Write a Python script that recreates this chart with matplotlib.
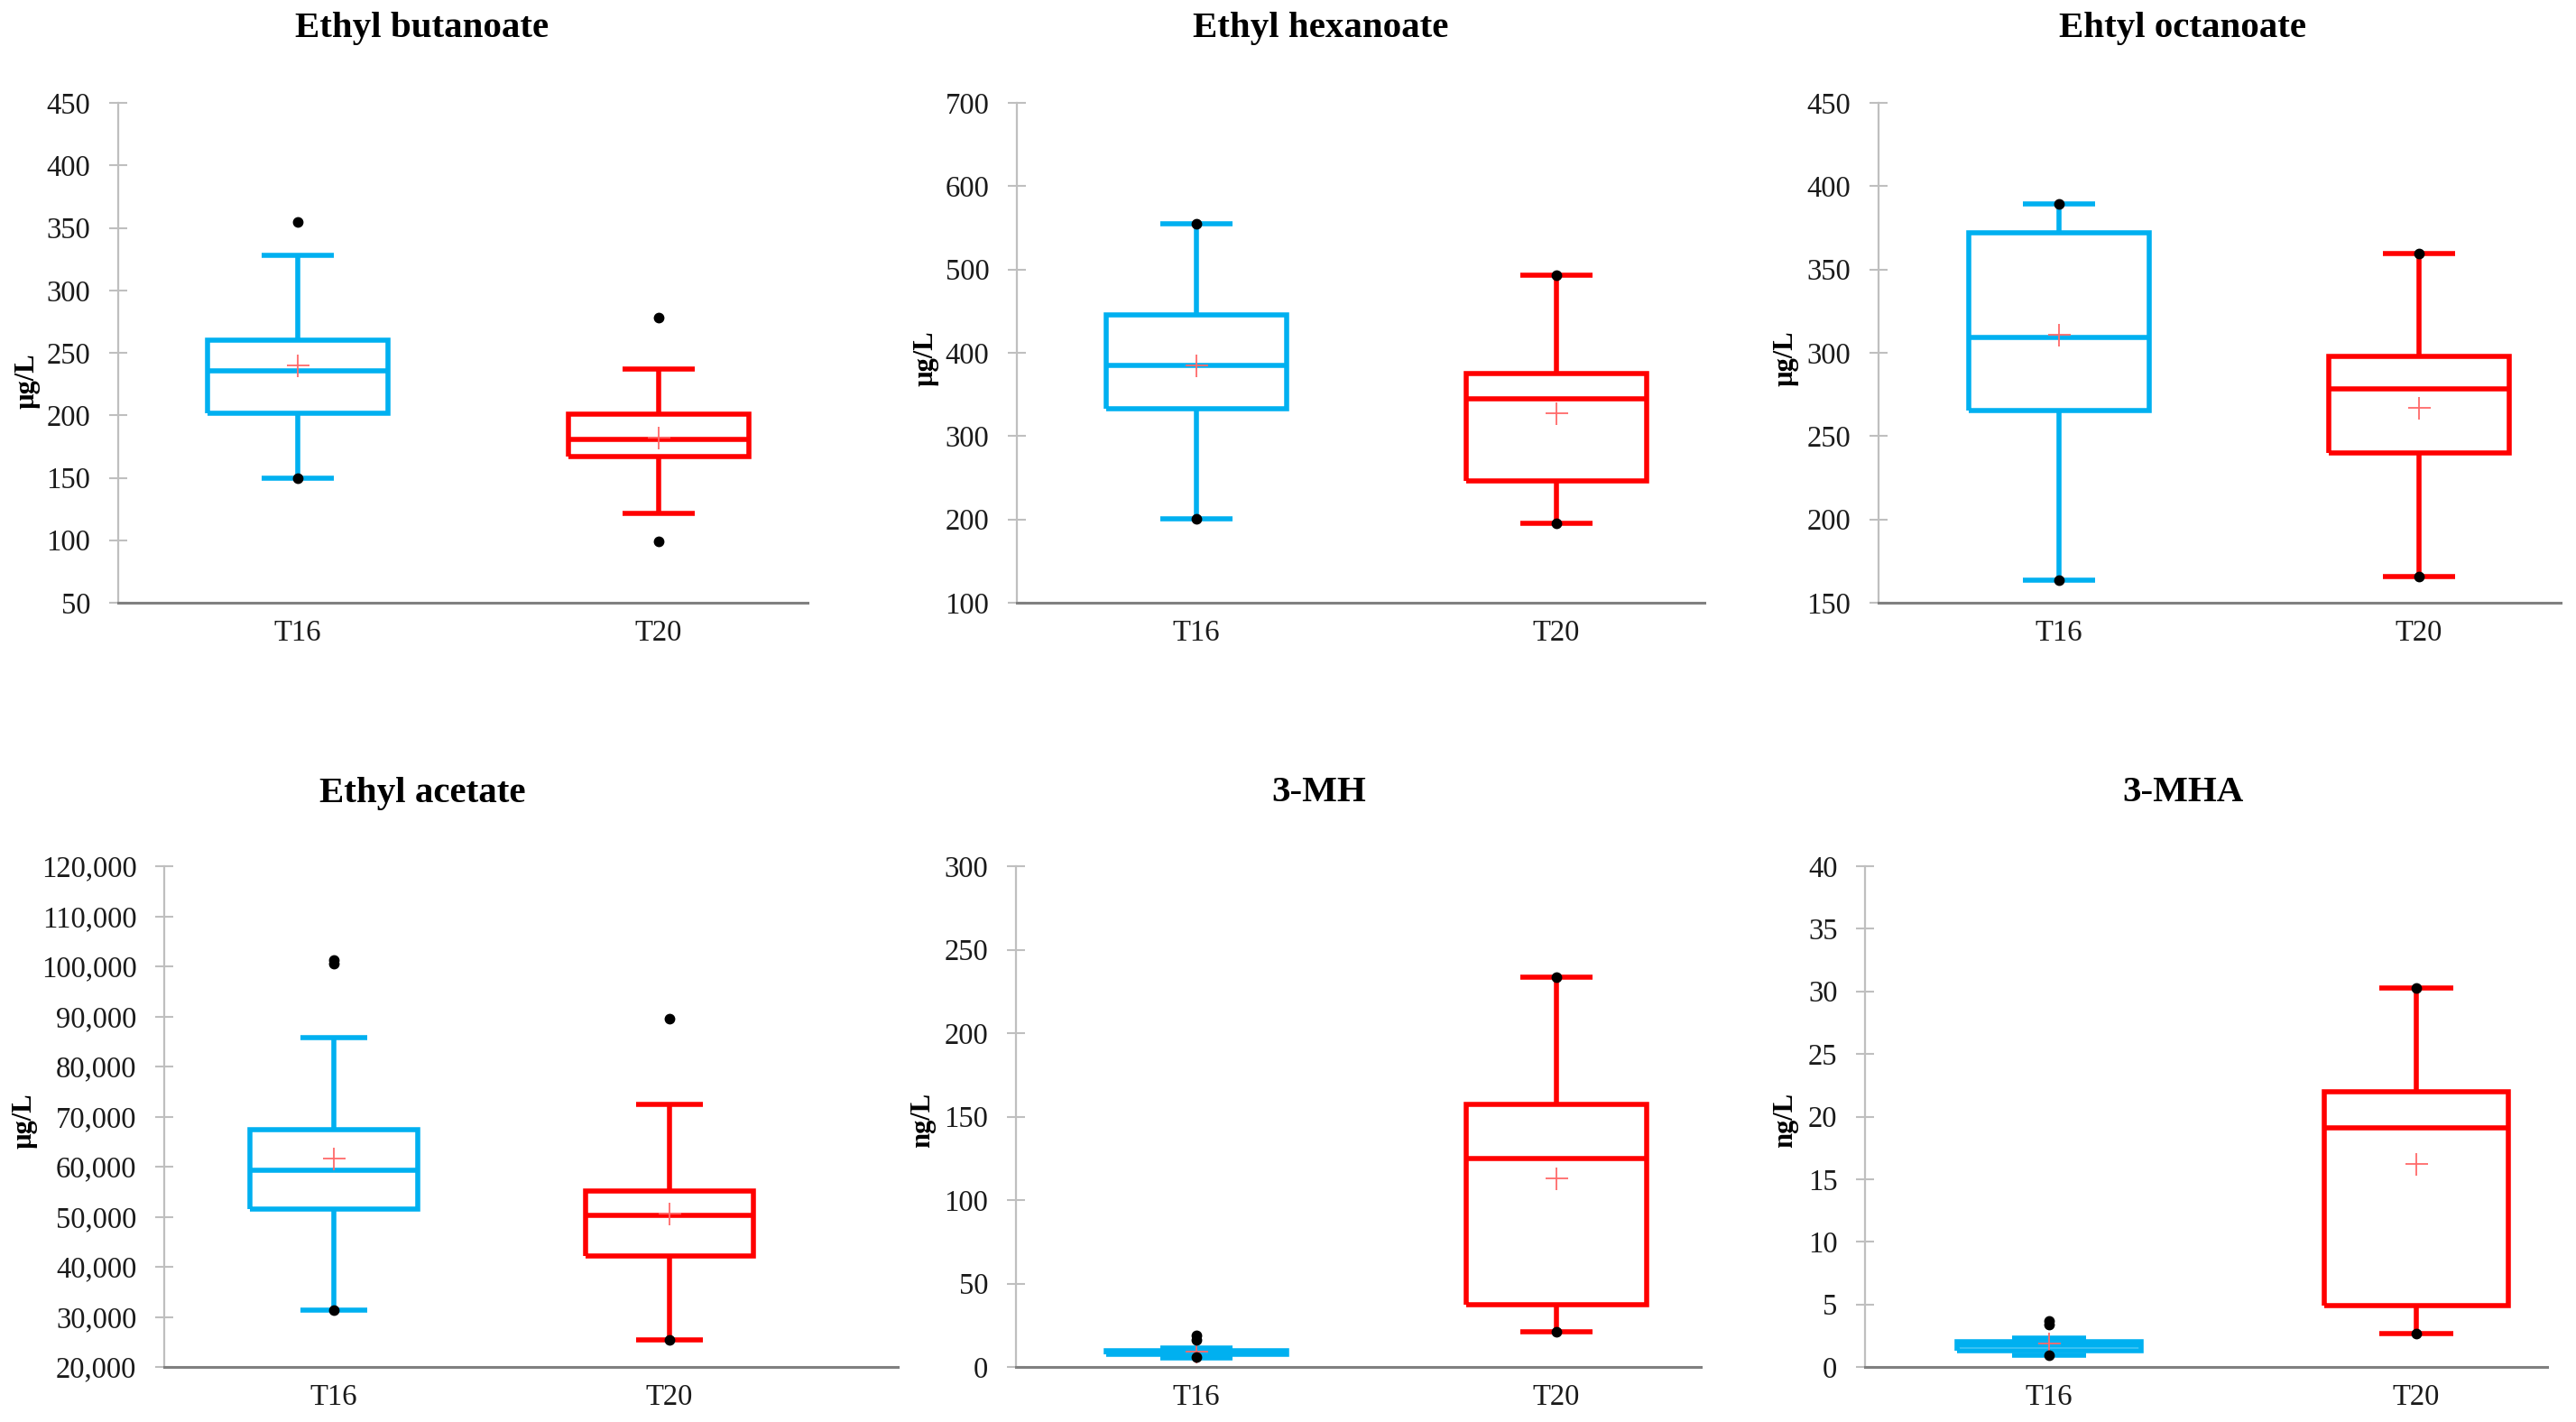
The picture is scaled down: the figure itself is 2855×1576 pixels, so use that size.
import matplotlib
matplotlib.use("Agg")
import matplotlib.pyplot as plt
from matplotlib.ticker import FuncFormatter

plt.rcParams['font.family'] = ['Liberation Serif', 'DejaVu Serif']

# ---------------- data ----------------
groups = ["T16", "T20"]
titles = ["Ethyl butanoate", "Ethyl hexanoate", "Ehtyl octanoate",
          "Ethyl acetate", "3-MH", "3-MHA"]
units = ["µg/L", "µg/L", "µg/L", "µg/L", "ng/L", "ng/L"]

# Ethyl butanoate
butanoate_whislo = [150, 121.5]
butanoate_q1 = [201.5, 167]
butanoate_med = [235.5, 181]
butanoate_q3 = [260, 201]
butanoate_whishi = [328, 237]
butanoate_mean = [240, 182]
butanoate_points = [[150, 355], [99, 278]]

# Ethyl hexanoate
hexanoate_whislo = [200.5, 195]
hexanoate_q1 = [333, 246.5]
hexanoate_med = [385, 345]
hexanoate_q3 = [445, 375]
hexanoate_whishi = [555, 493]
hexanoate_mean = [385, 327]
hexanoate_points = [[200.5, 555], [195, 493]]

# Ethyl octanoate
octanoate_whislo = [163.5, 165.5]
octanoate_q1 = [265.5, 240]
octanoate_med = [309, 278.5]
octanoate_q3 = [372, 298]
octanoate_whishi = [389.5, 359.5]
octanoate_mean = [311, 267]
octanoate_points = [[163.5, 389.5], [165.5, 359.5]]

# Ethyl acetate
acetate_whislo = [31300, 25400]
acetate_q1 = [51500, 42100]
acetate_med = [59200, 50200]
acetate_q3 = [67400, 55100]
acetate_whishi = [85700, 72500]
acetate_mean = [61600, 50600]
acetate_points = [[31300, 100600, 101200], [25400, 89600]]

# 3-MH
mh_whislo = [5.5, 21]
mh_q1 = [7.3, 37.2]
mh_med = [8.6, 125]
mh_q3 = [10.0, 157.4]
mh_whishi = [11.1, 233.6]
mh_mean = [9.2, 113]
mh_points = [[6.0, 16.2, 19.0], [21, 233.6]]

# 3-MHA
mha_whislo = [0.95, 2.7]
mha_q1 = [1.3, 4.9]
mha_med = [1.7, 19.1]
mha_q3 = [2.05, 22.0]
mha_whishi = [2.3, 30.3]
mha_mean = [1.9, 16.2]
mha_points = [[0.95, 3.4, 3.7], [2.7, 30.3]]

# y axis ranges (min, max, step)
y_ranges = [(50, 450, 50), (100, 700, 100), (150, 450, 50),
            (20000, 120000, 10000), (0, 300, 50), (0, 40, 5)]

compounds = [
    (butanoate_whislo, butanoate_q1, butanoate_med, butanoate_q3, butanoate_whishi, butanoate_mean, butanoate_points),
    (hexanoate_whislo, hexanoate_q1, hexanoate_med, hexanoate_q3, hexanoate_whishi, hexanoate_mean, hexanoate_points),
    (octanoate_whislo, octanoate_q1, octanoate_med, octanoate_q3, octanoate_whishi, octanoate_mean, octanoate_points),
    (acetate_whislo, acetate_q1, acetate_med, acetate_q3, acetate_whishi, acetate_mean, acetate_points),
    (mh_whislo, mh_q1, mh_med, mh_q3, mh_whishi, mh_mean, mh_points),
    (mha_whislo, mha_q1, mha_med, mha_q3, mha_whishi, mha_mean, mha_points),
]

# ---------------- layout (pixels) ----------------
W, H = 2855, 1576
# left, right, top, bottom, x of T16, x of T20
layout = [
    (131, 895, 114, 668, 330, 730),
    (1127, 1889, 114, 668, 1326, 1725),
    (2082, 2838, 114, 668, 2282, 2681),
    (182, 995, 960, 1515, 370, 742),
    (1126, 1885, 960, 1515, 1326, 1725),
    (2067, 2823, 960, 1515, 2271, 2678),
]
title_pos = [(468, 31), (1464, 31), (2419, 31), (468, 879), (1462, 879), (2419, 879)]
ylabel_pos = [(30, 422), (1026, 397), (1979, 397), (27, 1242), (1023, 1241), (1979, 1241)]

colors = ["#00B0F0", "#FF0000"]

fig = plt.figure(figsize=(W / 100, H / 100), dpi=100)
fig.patch.set_facecolor("white")

for i in range(6):
    l, r, t, b, c1, c2 = layout[i]
    ax = fig.add_axes([l / W, 1 - b / H, (r - l) / W, (b - t) / H])
    ppu = (c2 - c1)  # pixels per category unit
    ax.set_xlim(1 - (c1 - l) / ppu, 2 + (r - c2) / ppu)
    ymin, ymax, ystep = y_ranges[i]
    ax.set_ylim(ymin, ymax)
    ticks = list(range(ymin, ymax + 1, ystep))
    ax.set_yticks(ticks)
    if ymax >= 10000:
        ax.yaxis.set_major_formatter(FuncFormatter(lambda v, p: f"{int(v):,}"))

    wl, q1, md, q3, wh, mn, pts = compounds[i]
    for g in range(2):
        st = dict(whislo=wl[g], q1=q1[g], med=md[g], q3=q3[g], whishi=wh[g],
                  mean=mn[g], fliers=[], label=groups[g])
        col = colors[g]
        lp = dict(color=col, linewidth=4, solid_joinstyle="miter", solid_capstyle="butt")
        ax.bxp([st], positions=[g + 1], widths=0.5, capwidths=0.2,
               showmeans=True, meanline=False, showfliers=False,
               boxprops=lp, whiskerprops=lp, capprops=lp, medianprops=lp,
               meanprops=dict(marker="+", markeredgecolor="#FF6A6A",
                              markersize=18, markeredgewidth=1.3, zorder=6),
               manage_ticks=False)
        ax.plot([g + 1] * len(pts[g]), pts[g], linestyle="none", marker="o",
                markersize=7.5, color="black", zorder=7)

    ax.set_xticks([1, 2])
    ax.set_xticklabels(groups)

    for s in ["top", "right"]:
        ax.spines[s].set_visible(False)
    ax.spines["left"].set_color("#BFBFBF")
    ax.spines["left"].set_linewidth(1.6)
    ax.spines["bottom"].set_color("#808080")
    ax.spines["bottom"].set_linewidth(2.2)
    ax.spines["bottom"].set_zorder(3)

    ax.tick_params(axis="y", direction="inout", length=14, width=1.5,
                   color="#BFBFBF", labelsize=23.5, pad=15, labelcolor="#1a1a1a")
    ax.tick_params(axis="x", length=0, labelsize=23.5, pad=13, labelcolor="#1a1a1a")
    ax.set_facecolor("none")

    tx, ty = title_pos[i]
    fig.text(tx / W, 1 - ty / H, titles[i], ha="center", va="center",
             fontsize=29.5, fontweight="bold")
    lx, ly = ylabel_pos[i]
    fig.text(lx / W, 1 - ly / H, units[i], ha="center", va="center",
             rotation=90, fontsize=22, fontweight="bold")

fig.savefig("out.png", dpi=100, facecolor="white")
